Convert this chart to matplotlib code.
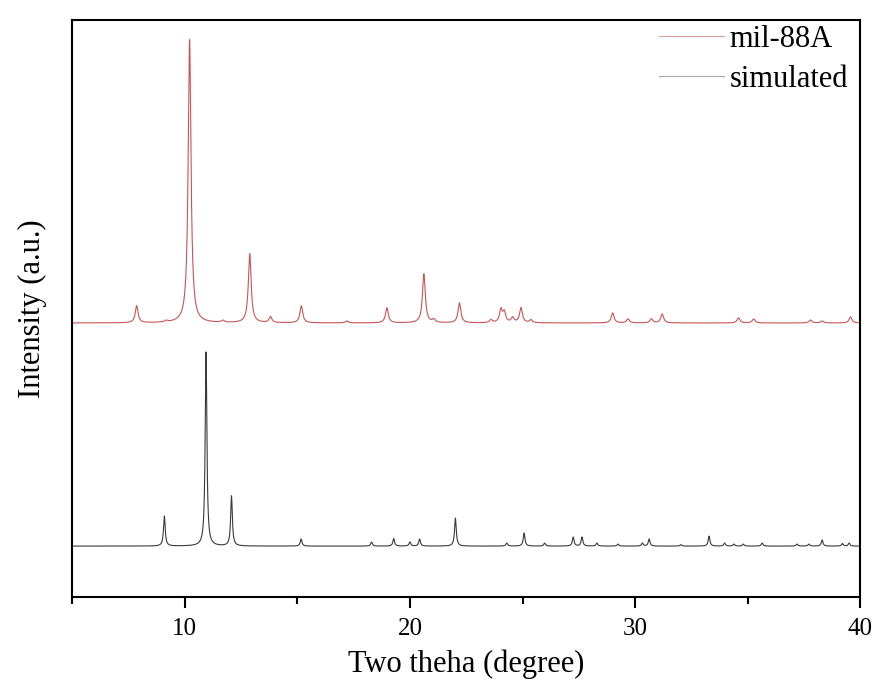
import numpy as np
import matplotlib
matplotlib.use("Agg")
import matplotlib.pyplot as plt
from matplotlib.ticker import MultipleLocator

plt.rcParams['font.family'] = ['Liberation Serif', 'DejaVu Serif']

# peak list of the simulated pattern (2theta, height in a.u.)
sim_pos = [9.10, 10.95, 12.08, 15.17, 18.30, 19.28, 20.00, 20.43, 22.02, 24.30,
           25.07, 25.98, 27.25, 27.64, 28.30, 29.24, 30.32, 30.62, 32.03, 33.28,
           33.97, 34.38, 34.80, 35.64, 37.19, 37.71, 38.30, 39.20, 39.50]
sim_int = [30, 194, 50, 7, 4, 7.5, 4, 7, 28, 3,
           13, 3, 9, 9, 3, 2, 3, 7, 1.5, 10,
           3, 2, 2, 3, 2, 2, 6, 2.5, 3]

# peak list of the measured mil-88A pattern
mil_pos = [7.87, 9.18, 10.22, 11.70, 12.89, 13.81, 15.18, 17.20, 18.98, 20.62,
           21.06, 22.20, 23.60, 24.04, 24.19, 24.56, 24.93, 25.37, 29.00, 29.68,
           30.72, 31.20, 34.59, 35.26, 37.78, 38.30, 39.56]
mil_int = [17, 1.5, 283, 2, 69, 6, 17, 2, 15, 49,
           3, 20, 3, 13, 10, 5, 15, 3, 10, 4,
           4, 9, 5, 4, 3, 2, 6]
mil_offset = 223

series_names = ['mil-88A', 'simulated']


def profile(x, pos, hgt, fwhm):
    y = np.zeros_like(x)
    g = fwhm / 2
    for p, h in zip(pos, hgt):
        y += h * g**2 / ((x - p)**2 + g**2)
    return y


x = np.arange(5, 40.001, 0.005)
y_sim = profile(x, sim_pos, sim_int, 0.09)
y_mil = profile(x, mil_pos, mil_int, 0.15) + mil_offset

fig = plt.figure(figsize=(8.76, 6.84), dpi=100)
ax = fig.add_axes([0.0822, 0.127, 0.9, 0.844])

ax.plot(x, y_mil, color='#c85555', lw=0.8)
ax.plot(x, y_sim, color='#3a3a3a', lw=0.8)

# legend handles are drawn lighter, as in the source figure
ax.plot([], [], color='#d99a9a', lw=0.8, label=series_names[0])
ax.plot([], [], color='#a8a8a8', lw=0.8, label=series_names[1])

ax.set_xlim(5, 40)
ax.set_ylim(-51, 526)
ax.xaxis.set_major_locator(MultipleLocator(10))
ax.xaxis.set_minor_locator(MultipleLocator(5))
ax.tick_params(axis='x', which='major', length=8, width=1.5, labelsize=18, pad=7)
ax.tick_params(axis='x', which='minor', length=5, width=1.5)
ax.set_yticks([])
for s in ax.spines.values():
    s.set_linewidth(1.5)

ax.set_xlabel('Two theha (degree)', fontsize=22, labelpad=7)
ax.set_ylabel('Intensity (a.u.)', fontsize=22, labelpad=18)

ax.legend(loc='upper right', bbox_to_anchor=(1.0, 1.012), frameon=False,
          fontsize=22, handlelength=2.1, handletextpad=0.2, labelspacing=0.35,
          borderaxespad=0.0)

fig.savefig('out.png', dpi=100)
